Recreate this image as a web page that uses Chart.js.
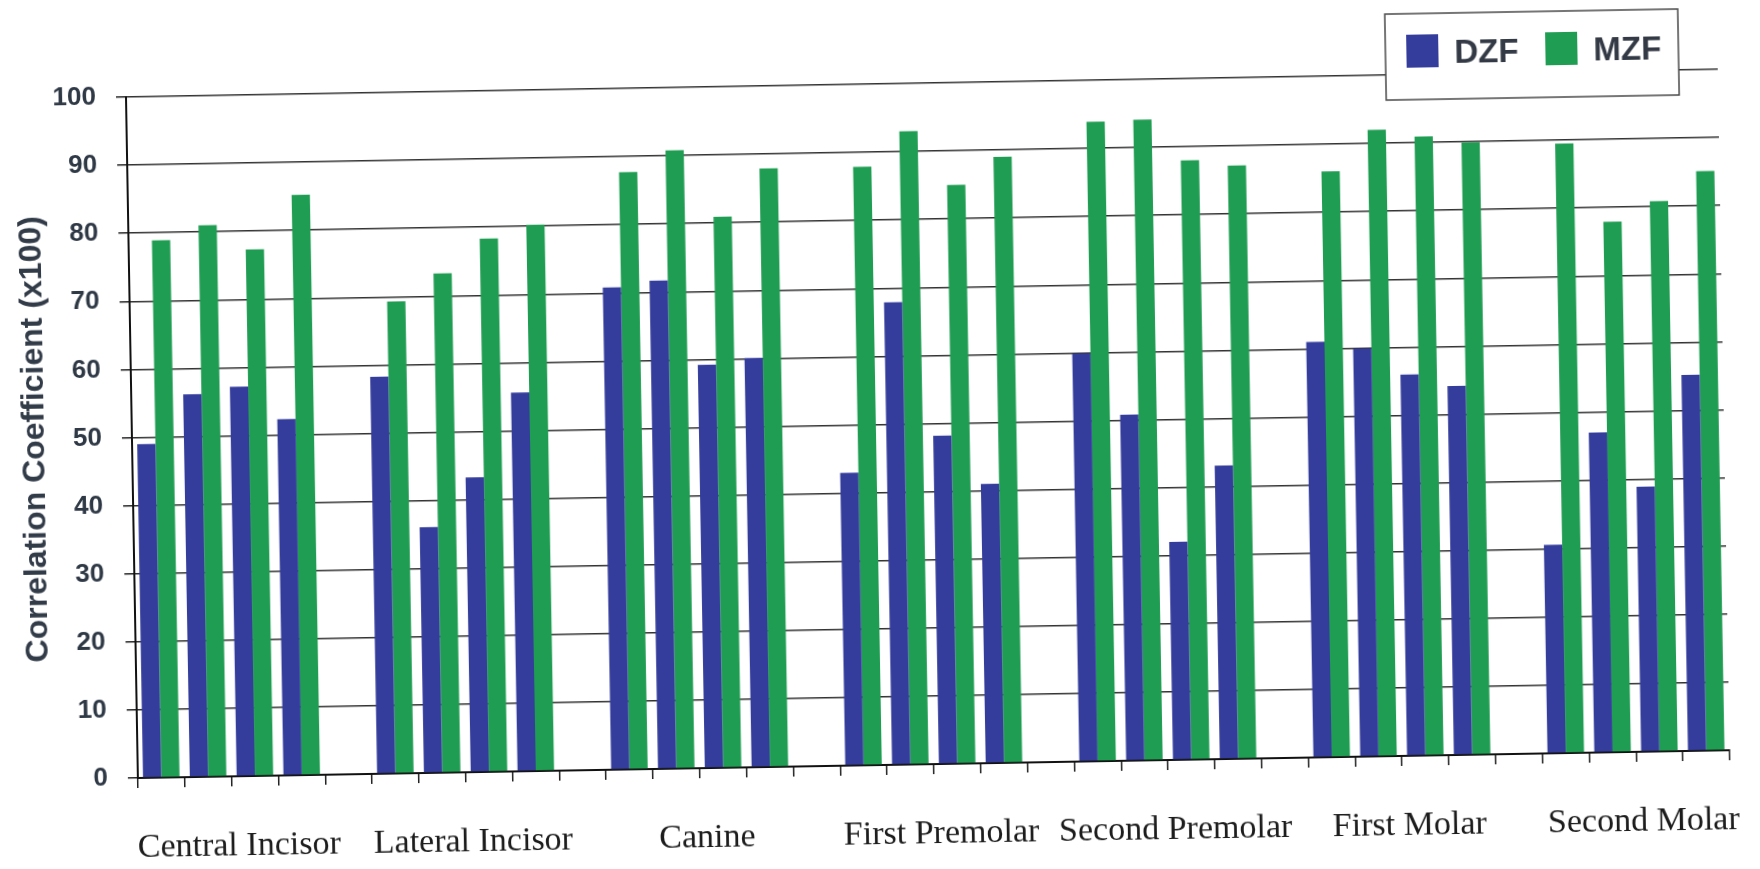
<!DOCTYPE html>
<html>
<head>
<meta charset="utf-8">
<script src="https://cdn.jsdelivr.net/npm/chart.js@4.4.1/dist/chart.umd.min.js"></script>
<style>
    html, body { margin: 0; padding: 0; background: #fff; overflow: hidden; }
    #wrap { width: 1760px; height: 869px; transform: rotate(-1deg); }
</style>
</head>
<body>
<div id="wrap"><canvas id="barChartCanvas" width="1760" height="869"></canvas></div>
<script>
// tooth groups, four measurements each
const groups = ['Central Incisor', 'Lateral Incisor', 'Canine', 'First Premolar', 'Second Premolar', 'First Molar', 'Second Molar'];
const perGroup = 4;

const dzfValues = [
    49.0, 56.2, 57.2, 52.3,
    58.3, 36.1, 43.3, 55.6,
    70.8, 71.7, 59.2, 60.1,
    43.0, 67.9, 48.2, 41.0,
    59.9, 50.8, 32.0, 43.1,
    61.0, 59.9, 56.0, 54.2,
    30.6, 47.0, 38.9, 55.2
];
const mzfValues = [
    78.9, 81.0, 77.3, 85.2,
    69.3, 73.3, 78.3, 80.2,
    87.7, 90.8, 80.9, 87.9,
    87.9, 93.0, 85.0, 89.0,
    93.9, 94.1, 88.0, 87.1,
    86.0, 92.0, 90.9, 89.9,
    89.5, 77.9, 80.8, 85.1
];

const yMin = 0;
const yMax = 100;
const yStep = 10;

const dzfColor = '#343d9c';
const mzfColor = '#1f9d52';

window.onload = function () {
    barChartDraw();
}

// one slot per measurement plus an empty slot between groups
let buildSlots = function () {
    let labels = [], dzf = [], mzf = [];
    groups.forEach(function (name, g) {
        for (let i = 0; i < perGroup; i++) {
            labels.push(i === 1 ? name : '');
            dzf.push(dzfValues[g * perGroup + i]);
            mzf.push(mzfValues[g * perGroup + i]);
        }
        if (g < groups.length - 1) {
            labels.push('');
            dzf.push(null);
            mzf.push(null);
        }
    });
    return { labels: labels, dzf: dzf, mzf: mzf };
};

// white framed legend sitting over the top gridline
let boxedLegend = {
    id: 'boxedLegend',
    afterDraw: function (chart) {
        let ctx = chart.ctx;
        let x = 1392, y = 23, w = 293, h = 86;
        ctx.save();
        ctx.fillStyle = '#ffffff';
        ctx.fillRect(x, y, w, h);
        ctx.strokeStyle = '#4a4a4a';
        ctx.lineWidth = 1.5;
        ctx.strokeRect(x, y, w, h);
        ctx.font = 'bold 33px "Liberation Sans", Arial, sans-serif';
        ctx.textBaseline = 'middle';
        let left = x + 21;
        chart.data.datasets.forEach(function (ds) {
            ctx.fillStyle = ds.backgroundColor;
            ctx.fillRect(left, y + 21, 32, 33);
            ctx.fillStyle = '#333a45';
            ctx.fillText(ds.label, left + 48, y + 41);
            left += 139;
        });
        ctx.restore();
    }
};

let barChartDraw = function () {
    let slots = buildSlots();
    let ctx = document.getElementById('barChartCanvas').getContext('2d');

    window.barChart = new Chart(ctx, {
        type: 'bar',
        data: {
            labels: slots.labels,
            datasets: [
                { label: 'DZF', data: slots.dzf, backgroundColor: dzfColor },
                { label: 'MZF', data: slots.mzf, backgroundColor: mzfColor }
            ]
        },
        options: {
            responsive: false,
            animation: false,
            layout: { padding: { top: 84, right: 36, bottom: 0, left: 0 } },
            datasets: {
                bar: { categoryPercentage: 0.78, barPercentage: 1.0, skipNull: false }
            },
            plugins: {
                legend: { display: false },
                tooltip: { enabled: false }
            },
            scales: {
                x: {
                    grid: {
                        offset: true,
                        drawOnChartArea: false,
                        drawTicks: true,
                        tickLength: 10,
                        tickColor: '#222',
                        lineWidth: 1.5
                    },
                    border: { display: true, color: '#111', width: 2 },
                    ticks: {
                        autoSkip: false,
                        maxRotation: 0,
                        labelOffset: 30,
                        padding: 40,
                        color: '#1c1c1c',
                        font: { family: '"Liberation Serif", "Times New Roman", serif', size: 34 }
                    },
                    afterFit: function (scale) {
                        scale.height = 104;
                    }
                },
                y: {
                    min: yMin,
                    max: yMax,
                    ticks: {
                        stepSize: yStep,
                        padding: 20,
                        color: '#2f3946',
                        font: { family: '"Liberation Sans", Arial, sans-serif', size: 26, weight: 'bold' }
                    },
                    grid: {
                        color: '#333',
                        lineWidth: 1.5,
                        tickLength: 10,
                        tickColor: '#222'
                    },
                    border: { display: true, color: '#111', width: 2 },
                    title: {
                        display: true,
                        text: 'Correlation Coefficient (x100)',
                        color: '#323b48',
                        padding: { top: 16, bottom: 0 },
                        font: { family: '"Liberation Sans", Arial, sans-serif', size: 32, weight: 'bold' }
                    },
                    afterFit: function (scale) {
                        scale.width = 132;
                    }
                }
            }
        },
        plugins: [boxedLegend]
    });
};
</script>
</body>
</html>
